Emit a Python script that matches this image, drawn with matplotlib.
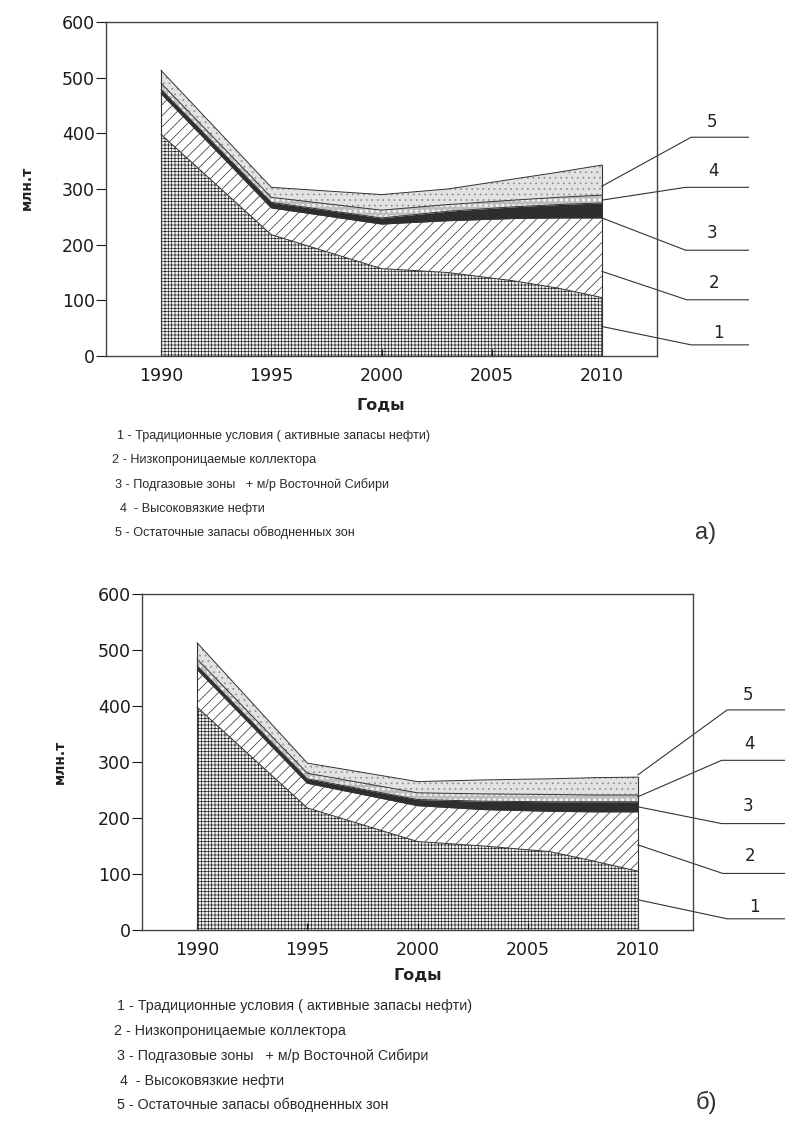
import matplotlib
matplotlib.use('Agg')
import matplotlib.pyplot as plt
import numpy as np

plt.rcParams['hatch.linewidth'] = 0.5

years = [1990, 1995, 2000, 2003, 2006, 2008, 2010]

# chart a) thickness of each layer, mln t
a_traditional = [398, 218, 157, 150, 135, 122, 105]
a_low_perm = [73, 48, 80, 93, 112, 126, 143]
a_gas_cap = [8, 10, 11, 17, 21, 24, 27]
a_heavy = [11, 9, 14, 12, 12, 13, 14]
a_watered = [23, 18, 28, 28, 38, 45, 54]

# chart b)
b_traditional = [398, 218, 158, 150, 140, 123, 105]
b_low_perm = [67, 44, 64, 65, 72, 88, 106]
b_gas_cap = [7, 8, 11, 15, 17, 18, 18]
b_heavy = [12, 10, 12, 13, 13, 12, 12]
b_watered = [29, 18, 20, 25, 28, 31, 32]

legend_lines = [
    '1 - Традиционные условия ( активные запасы нефти)',
    '2 - Низкопроницаемые коллектора',
    '3 - Подгазовые зоны   + м/р Восточной Сибири',
    '4  - Высоковязкие нефти',
    '5 - Остаточные запасы обводненных зон',
]
layer_ids = ['1', '2', '3', '4', '5']

styles = [
    dict(hatch='+++++', facecolor='#f2f2f2', edgecolor='#262626'),
    dict(hatch='///', facecolor='white', edgecolor='#2a2a2a'),
    dict(hatch=None, facecolor='#2e2e2e', edgecolor='#2e2e2e'),
    dict(hatch='ooo', facecolor='#bdbdbd', edgecolor='#f5f5f5'),
    dict(hatch='...', facecolor='#e2e2e2', edgecolor='#8a8a8a'),
]

W, H = 786, 1140


def fx(px):
    return px / W


def fy(py):
    return 1 - py / H


def draw(ax, layers, anchors):
    x = np.array(years)
    base = np.zeros(len(years))
    for vals, st in zip(layers, styles):
        top = base + np.array(vals)
        ax.fill_between(x, base, top, linewidth=0, **st)
        ax.plot(x, top, color='#333333', lw=0.7)
        base = top
    ax.plot([years[0]] * 2, [0, base[0]], color='#333333', lw=0.8)
    ax.plot([years[-1]] * 2, [0, base[-1]], color='#333333', lw=0.8)

    ax.set_xlim(1987.5, 2012.5)
    ax.set_ylim(0, 600)
    ax.set_xticks([1990, 1995, 2000, 2005, 2010])
    ax.set_yticks(range(0, 601, 100))
    ax.tick_params(axis='x', direction='in', length=5, pad=8,
                   labelsize=12.5, colors='#1a1a1a')
    ax.tick_params(axis='y', direction='out', length=7, pad=1,
                   labelsize=12.5, colors='#1a1a1a')
    for s in ax.spines.values():
        s.set_color('#444444')
        s.set_linewidth(1.0)

    # leader lines to the layer numbers
    elbows = [(2014.05, 20), (2013.85, 101), (2013.8, 190),
              (2013.8, 303), (2014.05, 393)]
    labels = [(2015.3, 41), (2015.1, 132), (2015.0, 221),
              (2015.05, 332), (2015.0, 420)]
    for lid, a, e, l in zip(layer_ids, anchors, elbows, labels):
        ax.plot([2010, e[0], 2016.65], [a, e[1], e[1]], color='#333333',
                lw=0.8, clip_on=False)
        ax.text(l[0], l[1], lid, fontsize=12, ha='center', va='center',
                color='#222222')


fig = plt.figure(figsize=(W / 100, H / 100), dpi=100)

ax1 = fig.add_axes([fx(106), fy(356), 551 / W, 334 / H])
draw(ax1, [a_traditional, a_low_perm, a_gas_cap, a_heavy, a_watered],
     [53, 152, 248, 280, 305])

ax2 = fig.add_axes([fx(142), fy(930), 551 / W, 336 / H])
draw(ax2, [b_traditional, b_low_perm, b_gas_cap, b_heavy, b_watered],
     [54, 152, 220, 238, 277])

# axis titles
fig.text(fx(27), fy(188), 'млн.т', rotation=90, fontsize=10,
         fontweight='bold', ha='center', va='center', color='#222222')
fig.text(fx(60), fy(762), 'млн.т', rotation=90, fontsize=10,
         fontweight='bold', ha='center', va='center', color='#222222')
fig.text(fx(381), fy(405), 'Годы', fontsize=11.5, fontweight='bold',
         ha='center', va='center', color='#222222')
fig.text(fx(418), fy(975), 'Годы', fontsize=11.5, fontweight='bold',
         ha='center', va='center', color='#222222')

# legends
top_y = [436, 460, 485, 509, 533]
top_x = [117, 112, 115, 120, 115]
for t, xx, yy in zip(legend_lines, top_x, top_y):
    fig.text(fx(xx), fy(yy), t, fontsize=9.1, family='Liberation Sans',
             ha='left', va='center', color='#2a2a2a')
bot_y = [1006, 1031, 1056, 1081, 1105]
bot_x = [117, 114, 117, 120, 117]
for t, xx, yy in zip(legend_lines, bot_x, bot_y):
    fig.text(fx(xx), fy(yy), t, fontsize=10.3, family='Liberation Sans',
             ha='left', va='center', color='#2a2a2a')

fig.text(fx(706), fy(533), 'а)', fontsize=17, ha='center', va='center',
         color='#333333', family='Liberation Sans')
fig.text(fx(706), fy(1102), 'б)', fontsize=17, ha='center', va='center',
         color='#333333', family='Liberation Sans')

fig.savefig('out.png', dpi=100)
